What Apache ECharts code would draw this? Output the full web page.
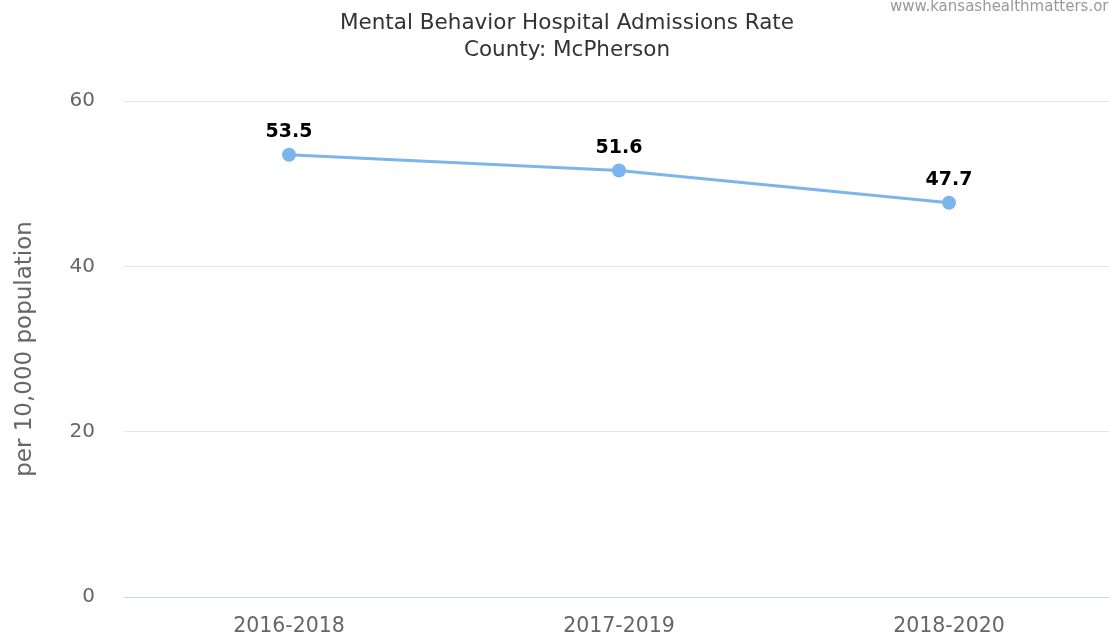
<!DOCTYPE html>
<html>
<head>
<meta charset="utf-8">
<script src="https://cdn.jsdelivr.net/npm/echarts@6/dist/echarts.min.js"></script>
<style>
  html, body { margin: 0; padding: 0; background: #fff; }
  #chart { width: 1109px; height: 639px; }
</style>
</head>
<body>
<div id="chart"></div>
<script>
const periods = ['2016-2018', '2017-2019', '2018-2020']
const rates = [53.5, 51.6, 47.7]
const yTicks = [0, 20, 40, 60]

const font = '"DejaVu Sans", Verdana, sans-serif'
const chart = echarts.init(document.getElementById('chart'))

chart.setOption({
  animation: false,
  textStyle: { fontFamily: font },
  title: {
    text: 'Mental Behavior Hospital Admissions Rate\nCounty: McPherson',
    left: 562,
    top: 5,
    textAlign: 'center',
    textStyle: { fontSize: 21.5, fontWeight: 'normal', color: '#333', lineHeight: 27, fontFamily: font },
  },
  graphic: [{
    type: 'text',
    left: 890,
    top: 0,
    style: { text: 'www.kansashealthmatters.org', fontSize: 15, fill: '#999', fontFamily: font },
  }],
  grid: { left: 124, width: 990, top: 101, bottom: 42, outerBoundsMode: 'none' },
  xAxis: {
    type: 'category',
    data: periods,
    axisLine: { lineStyle: { color: '#ccd6eb', width: 1 } },
    axisTick: { show: false },
    axisLabel: { fontSize: 20.5, color: '#666', margin: 19, fontFamily: font },
  },
  yAxis: {
    type: 'value',
    min: yTicks[0],
    max: yTicks[yTicks.length - 1],
    interval: 20,
    name: 'per 10,000 population',
    nameLocation: 'middle',
    nameGap: 87,
    nameTextStyle: { fontSize: 23, color: '#666', fontFamily: font },
    axisLine: { show: false },
    axisTick: { show: false },
    axisLabel: { fontSize: 20, color: '#666', margin: 29, fontFamily: font },
    splitLine: { lineStyle: { color: '#e6e6e6', width: 1 } },
  },
  series: [{
    type: 'line',
    data: rates,
    color: '#7cb5ec',
    lineStyle: { color: '#7cb5ec', width: 3 },
    symbol: 'circle',
    symbolSize: 14,
    itemStyle: { color: '#7cb5ec' },
    label: {
      show: true,
      position: 'top',
      distance: 6,
      fontSize: 19,
      fontWeight: 'bold',
      color: '#000',
      fontFamily: font,
    },
  }],
})
</script>
</body>
</html>
